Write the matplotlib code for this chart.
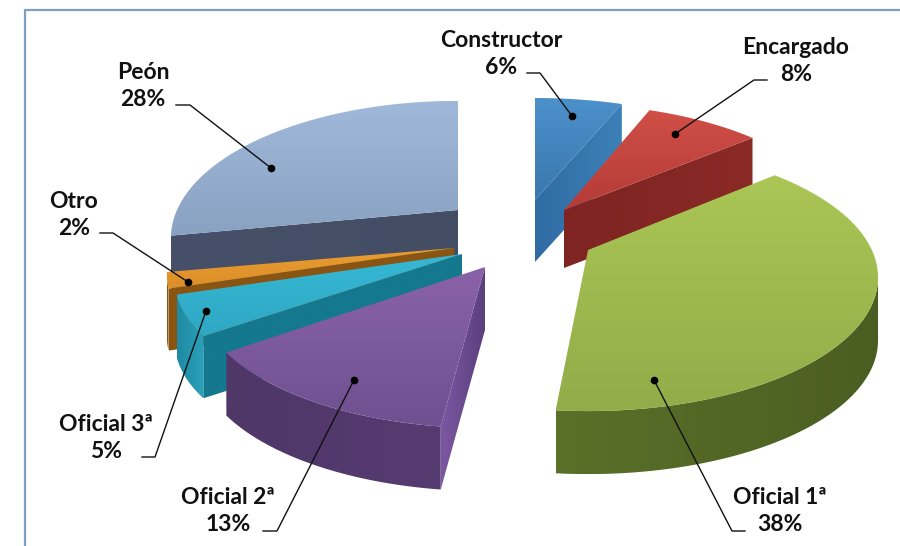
import numpy as np
import matplotlib
matplotlib.use('Agg')
import matplotlib.pyplot as plt
from matplotlib.colors import to_rgb
from matplotlib.patches import Polygon

plt.rcParams['font.family'] = ['Lato', 'DejaVu Sans']

# chart data, clockwise from 12 o'clock
categories = ['Constructor', 'Encargado', 'Oficial 1ª', 'Oficial 2ª', 'Oficial 3ª', 'Otro', 'Peón']
percents = [6, 8, 38, 13, 5, 2, 28]

# look of each slice (same order as categories)
explode_x = [35, 64, 88, -15, -38, -46, -42]
explode_y = [-50, -40, 0, 17, 4, -2, -40]
turn_deg = [0, 0, -2, 0, 0, 0, 0]
scale_x = [1.0, 0.985, 1.01, 1.0, 1.0, 1.0, 1.0]
scale_y = [1.0, 1.04, 1.04, 1.04, 1.0, 1.0, 1.07]
depth = [62, 58, 63, 63, 62, 62, 62]
top_hi = ['#4c90cb', '#d04f47', '#aac655', '#8a62a9', '#35b8d4', '#e89c30', '#a0b9da']
top_lo = ['#3a78ae', '#b43b37', '#92ac49', '#6f5090', '#2fa8c4', '#dc8f28', '#8aa2c2']
arc_col = ['#2f6ca3', '#7e2422', '#4b5e22', '#563b71', '#2ba0ba', '#8a5512', '#465068']
arc_col2 = ['#2f6ca3', '#7e2422', '#5a7028', '#4f3768', '#1f8aa3', '#8a5512', '#465068']
rad_col = ['#2f6ca3', '#7e2422', '#4d6023', '#7c57a1', '#14788e', '#8a5512', '#465068']
rad_col2 = ['#3d80b8', '#8a2a27', '#4d6023', '#5b3f7d', '#14788e', '#8a5512', '#434d64']
draw_order = [6, 0, 1, 5, 4, 3, 2]

# label text centres and leader lines
label_xy = [(501, 54), (796, 61), (780, 511), (228, 511), (106, 438), (74, 215), (143, 86)]
leaders = [
    [(527, 73), (540, 73), (572, 116)],
    [(767, 80), (754, 80), (675, 134)],
    [(745, 531), (732, 531), (654, 380)],
    [(263, 531), (277, 531), (354, 380)],
    [(142, 457), (155, 457), (206, 311)],
    [(100, 233), (113, 233), (188, 282)],
    [(176, 105), (190, 105), (271, 168)],
]

pie_cx, pie_cy = 500, 250
rad_x, rad_y = 281, 123
persp = 0.206

fig = plt.figure(figsize=(9.0, 5.46), dpi=100)
ax = fig.add_axes([0, 0, 1, 1])


def project(theta, i):
    # flat disc seen from the front, with near side bigger than far side
    u = np.sin(theta)
    v = np.cos(theta)
    s = 1 / (1 + persp * v)
    x = pie_cx + explode_x[i] + rad_x * scale_x[i] * u * s
    y = pie_cy + explode_y[i] - rad_y * scale_y[i] * v * s
    return np.column_stack([x, y])


def fill_gradient(pts, c0, c1, zorder, horizontal=False):
    pts = np.asarray(pts)
    c0 = to_rgb(c0)
    c1 = to_rgb(c1)
    t = np.linspace(0, 1, 64)
    img = np.array([[(1 - a) * c0[k] + a * c1[k] for k in range(3)] for a in t])
    img = img[np.newaxis, :, :] if horizontal else img[:, np.newaxis, :]
    patch = Polygon(pts, closed=True, transform=ax.transData, fc='none', ec='none')
    ax.add_patch(patch)
    im = ax.imshow(img, extent=[pts[:, 0].min(), pts[:, 0].max(), pts[:, 1].max(), pts[:, 1].min()],
                   aspect='auto', interpolation='bilinear', zorder=zorder)
    im.set_clip_path(patch)


def extrude(pts, d):
    down = pts + np.array([0, d])
    return np.vstack([pts, down[::-1]])


edges = np.cumsum([0] + percents) / sum(percents) * 2 * np.pi
z = 1
for i in draw_order:
    turn = np.radians(turn_deg[i])
    thetas = np.linspace(edges[i] + turn, edges[i + 1] + turn, 80)
    arc = project(thetas, i)
    apex = np.array([[pie_cx + explode_x[i], pie_cy + explode_y[i]]], dtype=float)

    # only edges running leftwards (clockwise) have a side face we can see
    if arc[0, 0] < apex[0, 0]:
        fill_gradient(extrude(np.vstack([apex, arc[:1]]), depth[i]), rad_col[i], rad_col2[i], z, True)
        z += 1
    if apex[0, 0] < arc[-1, 0]:
        fill_gradient(extrude(np.vstack([arc[-1:], apex]), depth[i]), rad_col[i], rad_col2[i], z, True)
        z += 1
    left = np.diff(arc[:, 0]) < 0
    if left.any():
        idx = np.where(left)[0]
        seg = arc[idx[0]:idx[-1] + 2]
        fill_gradient(extrude(seg, depth[i]), arc_col2[i], arc_col[i], z, True)
        z += 1
    fill_gradient(np.vstack([apex, arc]), top_hi[i], top_lo[i], z)
    z += 1

for i, name in enumerate(categories):
    lx, ly = label_xy[i]
    ax.text(lx, ly, f'{name}\n{percents[i]}%', ha='center', va='center', fontsize=16.5,
            fontweight='bold', color='#111111', linespacing=1.32, zorder=z + 2)
    line = np.array(leaders[i])
    ax.plot(line[:, 0], line[:, 1], color='#111111', lw=1.0, zorder=z + 1)
    ax.plot(line[-1, 0], line[-1, 1], 'o', color='black', ms=4.5, zorder=z + 1)

# frame of the figure
ax.plot([25, 25, 900], [546, 10, 10], color='#7f9fbd', lw=1.6, zorder=z + 3)

ax.set_xlim(0, 900)
ax.set_ylim(546, 0)
ax.axis('off')
fig.savefig('out.png', dpi=100)
